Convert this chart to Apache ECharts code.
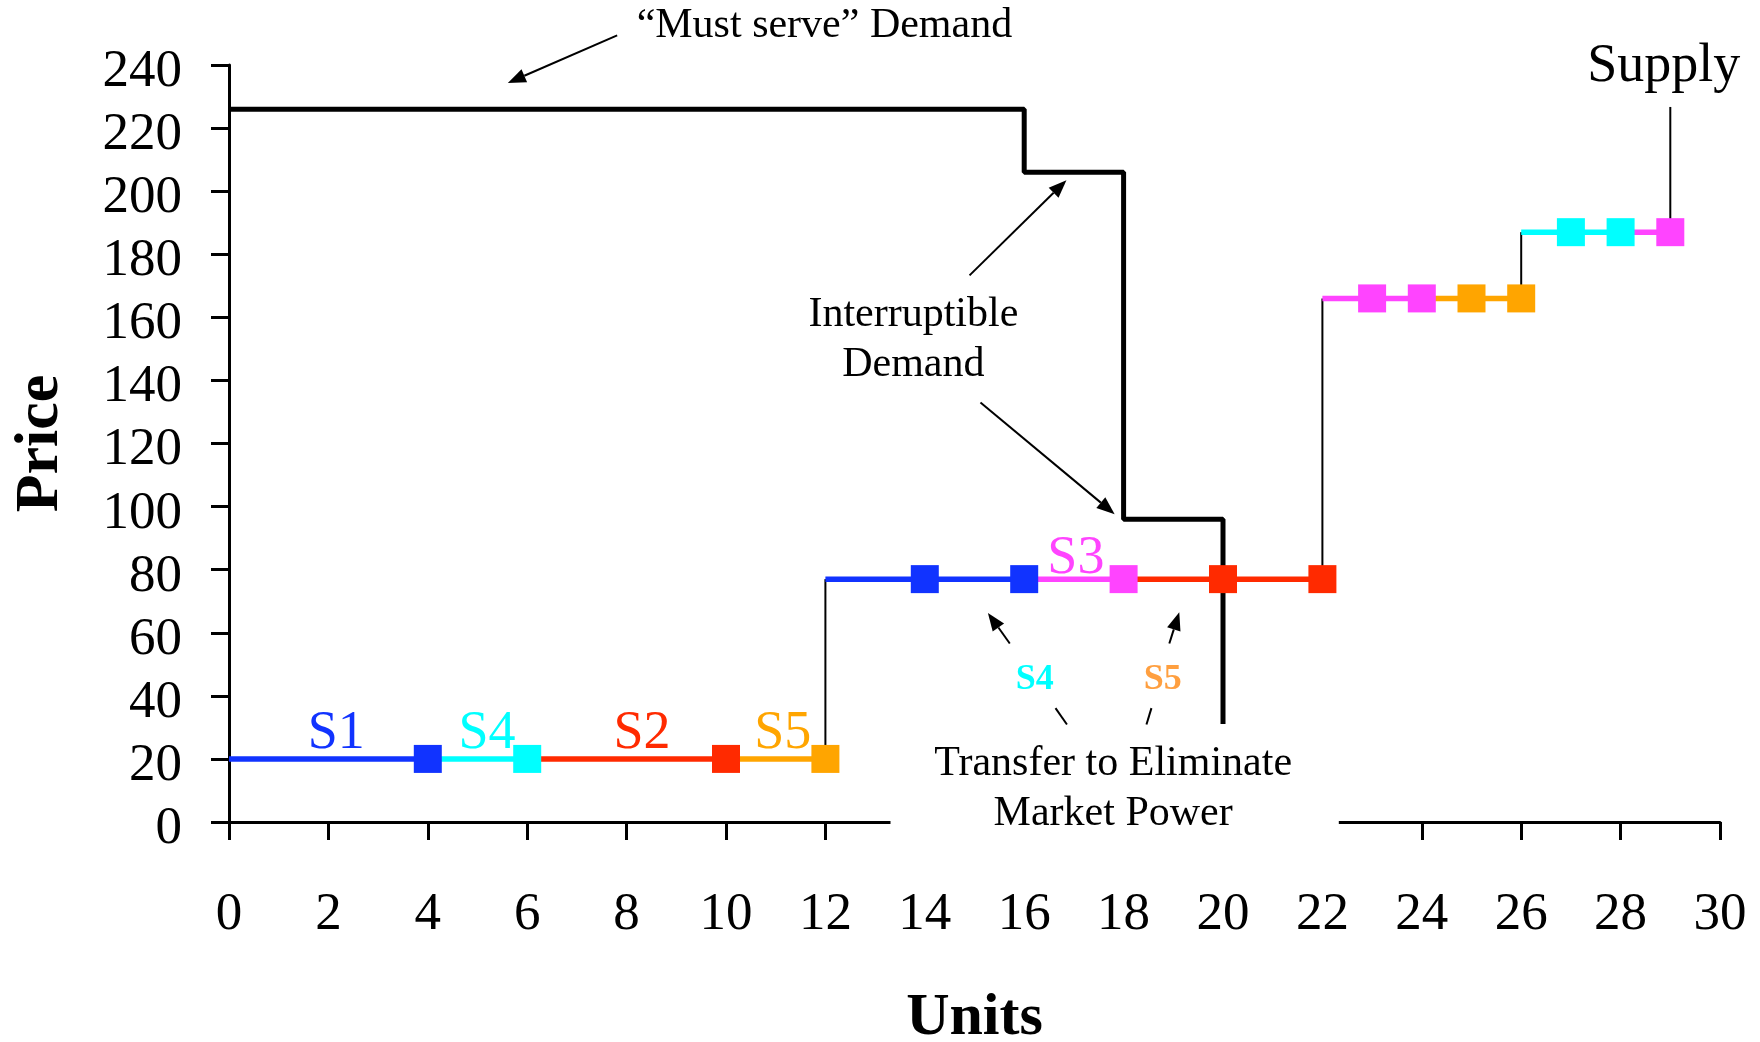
<!DOCTYPE html>
<html>
<head>
<meta charset="utf-8">
<script src="https://cdn.jsdelivr.net/npm/echarts@6/dist/echarts.min.js"></script>
<style>
  html, body { margin: 0; padding: 0; background: #fff; }
  #chart { width: 1760px; height: 1042px; }
</style>
</head>
<body>
<div id="chart"></div>
<script>
// supply steps: one colored run per owner, squares where a unit ends
const segFrom = [0, 4, 6, 10, 12, 16, 18, 22, 24, 26, 28]
const segTo = [4, 6, 10, 12, 16, 18, 22, 24, 26, 28, 29]
const segPrice = [20, 20, 20, 20, 77, 77, 77, 166, 166, 187, 187]
const segOwner = ['S1', 'S4', 'S2', 'S5', 'S1', 'S3', 'S2', 'S3', 'S5', 'S4', 'S3']
const segMarks = [[4], [6], [10], [12], [14, 16], [18], [20, 22], [23, 24], [25, 26], [27, 28], [29]]

// vertical risers of the supply curve
const riseUnit = [12, 22, 26]
const riseLow = [20, 77, 166]
const riseHigh = [77, 166, 187]

// demand curve corners
const demandUnits = [0, 16, 16, 18, 18, 20, 20]
const demandPrice = [226, 226, 206, 206, 96, 96, 0]

// owner labels on the curve
const ownerText = ['S1', 'S4', 'S2', 'S5', 'S3']
const ownerUnit = [2.16, 5.19, 8.31, 11.14, 17.04]
const ownerPrice = [28, 28, 28, 28, 83.5]

const ownerColor = {
  S1: '#1133FF',
  S2: '#FF2A00',
  S3: '#FF44FF',
  S4: '#00FFFF',
  S5: '#FFA500'
}
const FONT = '"Liberation Serif", "Times New Roman", serif'

const chart = echarts.init(document.getElementById('chart'))

const series = []
series.push({
  name: 'Demand',
  type: 'line',
  data: demandUnits.map((u, i) => [u, demandPrice[i]]),
  symbol: 'none',
  lineStyle: { color: '#000', width: 5 },
  z: 2
})
riseUnit.forEach((u, i) => {
  series.push({
    type: 'line',
    data: [[u, riseLow[i]], [u, riseHigh[i]]],
    symbol: 'none',
    lineStyle: { color: '#000', width: 2 },
    z: 3
  })
})
segFrom.forEach((from, i) => {
  const color = ownerColor[segOwner[i]]
  series.push({
    type: 'line',
    data: [[from, segPrice[i]], [segTo[i], segPrice[i]]],
    symbol: 'none',
    lineStyle: { color: color, width: 5.5 },
    z: 4
  })
})
segMarks.forEach((marks, i) => {
  const color = ownerColor[segOwner[i]]
  series.push({
    type: 'scatter',
    data: marks.map(m => [m, segPrice[i]]),
    symbol: 'rect',
    symbolSize: 28,
    itemStyle: { color: color, opacity: 1 },
    z: 5
  })
})

chart.setOption({
  animation: false,
  backgroundColor: '#fff',
  grid: {
    left: 229,
    right: 40,
    top: 65,
    bottom: 220,
    containLabel: false,
    outerBoundsMode: 'none'
  },
  xAxis: {
    type: 'value',
    min: 0,
    max: 30,
    interval: 2,
    name: 'Units',
    nameLocation: 'middle',
    nameGap: 166,
    nameTextStyle: { fontFamily: FONT, fontSize: 60, fontWeight: 'bold', color: '#000' },
    axisLine: { show: true, lineStyle: { color: '#000', width: 3 } },
    axisTick: { show: true, length: 18, lineStyle: { color: '#000', width: 3 } },
    axisLabel: { margin: 67, fontFamily: FONT, fontSize: 53, color: '#000' },
    splitLine: { show: false }
  },
  yAxis: {
    type: 'value',
    min: 0,
    max: 240,
    interval: 20,
    name: 'Price',
    nameLocation: 'middle',
    nameGap: 157,
    nameTextStyle: { fontFamily: FONT, fontSize: 62, fontWeight: 'bold', color: '#000' },
    axisLine: { show: true, lineStyle: { color: '#000', width: 3 } },
    axisTick: { show: true, length: 18, lineStyle: { color: '#000', width: 3 } },
    // labels sit a little below their ticks, as in the original
    axisLabel: { margin: 47, fontFamily: FONT, fontSize: 53, color: '#000', verticalAlign: 'top', lineHeight: 14 },
    splitLine: { show: false }
  },
  series: series
})

// annotations, placed in data units and converted to pixels
const P = pt => chart.convertToPixel({ gridIndex: 0 }, pt)
const els = []

function text(str, at, size, color, weight) {
  const p = P(at)
  els.push({
    type: 'text',
    x: p[0],
    y: p[1],
    z: 101,
    style: {
      text: str,
      fill: color || '#000',
      fontFamily: FONT,
      fontSize: size,
      fontWeight: weight || 'normal',
      align: 'center',
      verticalAlign: 'middle',
      lineHeight: Math.round(size * 1.2)
    }
  })
}

function line(a, b, z) {
  const p = P(a), q = P(b)
  els.push({
    type: 'line',
    z: z || 100,
    shape: { x1: p[0], y1: p[1], x2: q[0], y2: q[1] },
    style: { stroke: '#000', lineWidth: 2 }
  })
}

function arrow(a, b) {
  const p = P(a), q = P(b)
  const dx = q[0] - p[0], dy = q[1] - p[1]
  const len = Math.sqrt(dx * dx + dy * dy)
  const ux = dx / len, uy = dy / len
  const hl = 18, hw = 7
  const bx = q[0] - ux * hl, by = q[1] - uy * hl
  els.push({
    type: 'line',
    z: 100,
    shape: { x1: p[0], y1: p[1], x2: bx, y2: by },
    style: { stroke: '#000', lineWidth: 2 }
  })
  els.push({
    type: 'polygon',
    z: 100,
    shape: { points: [[q[0], q[1]], [bx - uy * hw, by + ux * hw], [bx + uy * hw, by - ux * hw]] },
    style: { fill: '#000' }
  })
}

// white box that hides the axis under the transfer note
const b0 = P([13.31, 31.1]), b1 = P([22.33, -9])
els.push({
  type: 'rect',
  z: 99,
  shape: { x: b0[0], y: b0[1], width: b1[0] - b0[0], height: b1[1] - b0[1] },
  style: { fill: '#fff' }
})

text('\u201cMust serve\u201d Demand', [11.98, 252.3], 42)
arrow([7.81, 249.4], [5.61, 234.3])

text('Interruptible\nDemand', [13.77, 152.7], 42)
arrow([14.90, 173.3], [16.85, 203.5])
arrow([15.12, 133], [17.82, 97.6])

text('Supply', [28.87, 239.3], 54)
line([29, 187], [29, 226.7], 1)

text('Transfer to Eliminate\nMarket Power', [17.79, 10.6], 42)
line([16.63, 36.1], [16.86, 30.9])
line([18.56, 36.1], [18.46, 30.9])
text('S4', [16.21, 45.2], 36, ownerColor.S4, 'bold')
text('S5', [18.79, 45.2], 36, '#FF9F3F', 'bold')
arrow([15.71, 56.6], [15.27, 66.3])
arrow([18.92, 56.6], [19.12, 66.5])

ownerText.forEach((s, i) => {
  text(s, [ownerUnit[i], ownerPrice[i]], 54, ownerColor[s])
})

chart.setOption({ graphic: { elements: els } })
</script>
</body>
</html>
